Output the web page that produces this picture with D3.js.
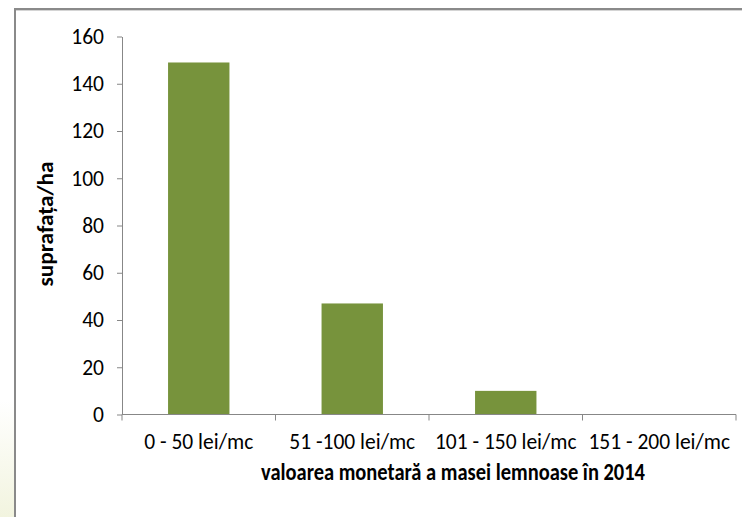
<!DOCTYPE html>
<html>
<head>
<meta charset="utf-8">
<script src="https://cdn.jsdelivr.net/npm/d3@7"></script>
<style>
  body { margin: 0; background: #fff; }
  svg { display: block; }
</style>
</head>
<body>
<div id="chart"></div>
<script>
// date
const categorii = ["0 - 50 lei/mc", "51 -100 lei/mc", "101 - 150 lei/mc", "151 - 200 lei/mc"];
const suprafata = [149, 47, 10, 0];
const yTicks = [0, 20, 40, 60, 80, 100, 120, 140, 160];

const W = 742, H = 517;
const plotLeft = 122, plotRight = 736, plotTop = 36.5, plotBottom = 414.5;
const font = "Carlito, Calibri, 'Liberation Sans Narrow', 'DejaVu Sans Condensed', sans-serif";

const svg = d3.select("#chart").append("svg")
  .attr("width", W).attr("height", H);

// fundal galbui discret in afara cadrului
const defs = svg.append("defs");
const g1 = defs.append("linearGradient").attr("id", "glow").attr("x1", 0).attr("y1", 0).attr("x2", 0).attr("y2", 1);
g1.append("stop").attr("offset", "0%").attr("stop-color", "#fff");
g1.append("stop").attr("offset", "100%").attr("stop-color", "#f2f4df");
svg.append("rect").attr("x", 0).attr("y", 400).attr("width", 14).attr("height", 117).attr("fill", "url(#glow)");

// cadru
svg.append("line").attr("x1", 15).attr("x2", 15).attr("y1", 8).attr("y2", H)
  .attr("stroke", "#8a8a8a").attr("stroke-width", 2);
svg.append("line").attr("x1", 14).attr("x2", W).attr("y1", 9).attr("y2", 9)
  .attr("stroke", "#8a8a8a").attr("stroke-width", 2);
svg.append("line").attr("x1", 16).attr("x2", W).attr("y1", 10.5).attr("y2", 10.5)
  .attr("stroke", "#d4d4d4").attr("stroke-width", 1);

const x = d3.scaleBand()
  .domain(categorii)
  .range([plotLeft, plotRight])
  .paddingInner(0.6)
  .paddingOuter(0.3);

const y = d3.scaleLinear()
  .domain([0, 160])
  .range([plotBottom, plotTop]);

// bare
svg.selectAll("rect.bar")
  .data(suprafata)
  .enter().append("rect")
  .attr("class", "bar")
  .attr("x", (d, i) => x(categorii[i]))
  .attr("y", d => y(d))
  .attr("width", x.bandwidth())
  .attr("height", d => y(0) - y(d))
  .attr("fill", "#77933c");

// axa y
const ay = svg.append("g")
  .attr("transform", `translate(${plotLeft},0)`)
  .call(d3.axisLeft(y).tickValues(yTicks).tickSize(5).tickPadding(13).tickSizeOuter(0));
ay.select(".domain").attr("stroke", "#878787");
ay.selectAll(".tick line").attr("stroke", "#878787");
ay.selectAll(".tick text")
  .attr("font-family", font).attr("font-size", 21.5).attr("fill", "#000");

// axa x
const step = x.step();
const ax = svg.append("g").attr("transform", `translate(0,${plotBottom})`);
ax.append("line").attr("x1", plotLeft).attr("x2", plotRight).attr("stroke", "#878787");
ax.selectAll("line.tk")
  .data(d3.range(categorii.length + 1))
  .enter().append("line")
  .attr("class", "tk")
  .attr("x1", i => plotLeft + i * step).attr("x2", i => plotLeft + i * step)
  .attr("y1", 0).attr("y2", 6)
  .attr("stroke", "#878787");
ax.selectAll("text.cat")
  .data(categorii)
  .enter().append("text")
  .attr("class", "cat")
  .attr("x", d => x(d) + x.bandwidth() / 2)
  .attr("y", 34)
  .attr("text-anchor", "middle")
  .attr("font-family", font).attr("font-size", 21.5)
  .text(d => d);

// titluri axe
svg.append("text")
  .attr("x", 453)
  .attr("y", 480)
  .attr("text-anchor", "middle")
  .attr("font-family", font).attr("font-size", 23.5).attr("font-weight", "bold")
  .attr("textLength", 384).attr("lengthAdjust", "spacingAndGlyphs")
  .text("valoarea monetară a masei lemnoase în 2014");

svg.append("text")
  .attr("transform", `translate(45,224) rotate(-90)`)
  .attr("text-anchor", "middle")
  .attr("dy", "0.35em")
  .attr("font-family", font).attr("font-size", 22.5).attr("font-weight", "bold")
  .attr("textLength", 125).attr("lengthAdjust", "spacingAndGlyphs")
  .text("suprafața/ha");
</script>
</body>
</html>
